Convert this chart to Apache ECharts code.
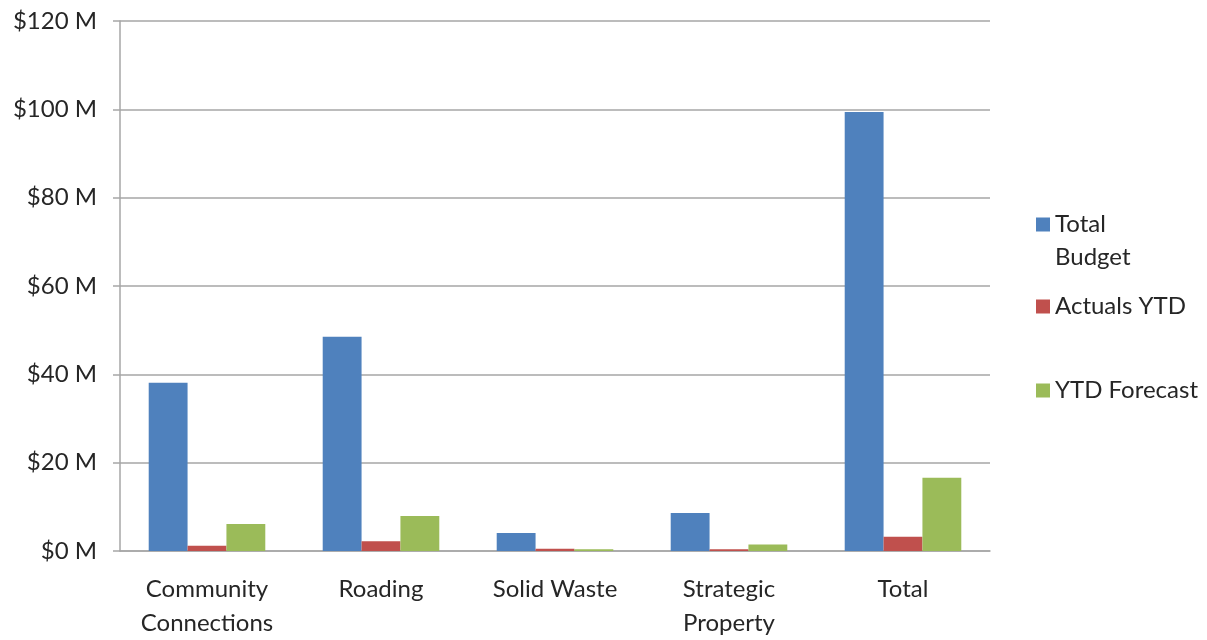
<!DOCTYPE html>
<html>
<head>
<meta charset="utf-8">
<script src="https://cdn.jsdelivr.net/npm/echarts@6/dist/echarts.min.js"></script>
<style>
  html, body { margin: 0; padding: 0; background: #ffffff; }
  #chart { width: 1207px; height: 640px; }
</style>
</head>
<body>
<div id="chart"></div>
<script>
// Capital programme: budget vs actuals and forecast, in $ millions
const categories = ['Community\nConnections', 'Roading', 'Solid Waste', 'Strategic\nProperty', 'Total'];
const totalBudget = [38.1, 48.5, 4.1, 8.6, 99.4];
const actualsYTD = [1.2, 2.2, 0.5, 0.4, 3.2];
const ytdForecast = [6.1, 7.9, 0.4, 1.5, 16.6];
const seriesNames = ['Total Budget', 'Actuals YTD', 'YTD Forecast'];
const seriesColors = ['#4f81bd', '#c0504d', '#9bbb59'];

const FONT = 'Lato, "Open Sans", sans-serif';
const TEXT = '#262626';
const GRID = '#a6a6a6';

const chart = echarts.init(document.getElementById('chart'), null, { renderer: 'canvas' });

function legendFor(i, top) {
  return {
    orient: 'vertical',
    left: 1031,
    top: top,
    data: [seriesNames[i]],
    icon: 'rect',
    itemWidth: 14,
    itemHeight: 14,
    selectedMode: false,
    // the two-word name wraps onto a second line below the swatch
    formatter: function (name) {
      return name === 'Total Budget' ? ' \nTotal\nBudget' : name;
    },
    textStyle: { fontFamily: FONT, fontSize: 24, color: TEXT, lineHeight: 33 }
  };
}

const series = [totalBudget, actualsYTD, ytdForecast].map(function (values, i) {
  return {
    name: seriesNames[i],
    type: 'bar',
    data: values,
    barGap: '0%',
    barCategoryGap: '33%',
    itemStyle: { color: seriesColors[i] },
    emphasis: { disabled: true }
  };
});

chart.setOption({
  animation: false,
  backgroundColor: '#ffffff',
  color: seriesColors,
  legend: [legendFor(0, 170), legendFor(1, 285), legendFor(2, 369)],
  grid: { left: 120, right: 217, top: 21, bottom: 88, containLabel: false },
  xAxis: {
    type: 'category',
    data: categories,
    axisLine: { show: true, lineStyle: { color: GRID, width: 1.5 } },
    axisTick: { show: false },
    axisLabel: {
      fontFamily: FONT, fontSize: 24, color: TEXT, lineHeight: 34,
      margin: 21, interval: 0
    },
    splitLine: { show: false }
  },
  yAxis: {
    type: 'value',
    min: 0,
    max: 120,
    interval: 20,
    axisLine: { show: true, lineStyle: { color: GRID, width: 1.5 } },
    axisTick: { show: true, length: 7, lineStyle: { color: GRID, width: 1.5 } },
    axisLabel: {
      fontFamily: FONT, fontSize: 24, color: TEXT, margin: 23,
      formatter: function (v) { return '$' + v + ' M'; }
    },
    splitLine: { show: true, lineStyle: { color: GRID, width: 1.5 } }
  },
  series: series
});
</script>
</body>
</html>
